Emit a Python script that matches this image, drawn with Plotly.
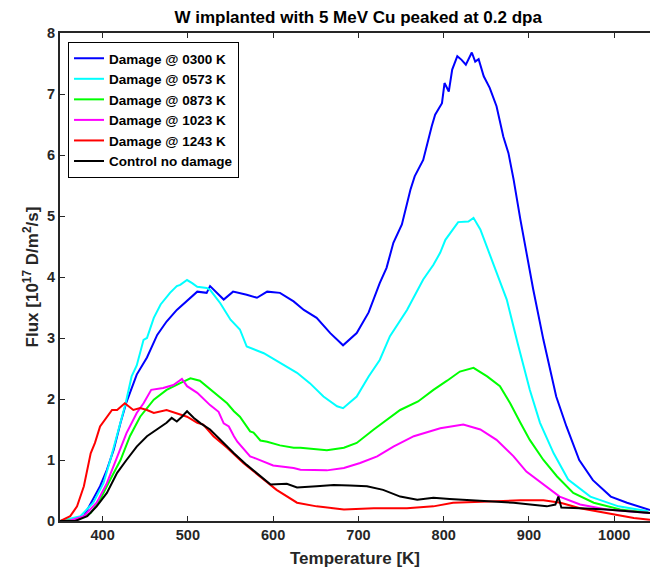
import plotly.graph_objects as go

# ---- data ----
T_0300 = [350, 365, 378, 389, 397, 405, 413, 421, 428, 440, 452, 464, 475, 487, 499, 511, 522, 526, 542, 553, 569, 581, 593, 608, 624, 636, 651, 667, 682, 698, 712, 725, 733, 741, 751, 761, 766, 776, 786, 790, 798, 801, 806, 810, 816, 821, 826, 833, 837, 841, 847, 854, 862, 870, 876, 882, 890, 898, 905, 917, 932, 944, 959, 975, 996, 1015, 1042]
F_0300 = [0, 0.01, 0.08, 0.35, 0.57, 0.84, 1.17, 1.61, 1.95, 2.4, 2.68, 3.05, 3.27, 3.46, 3.61, 3.76, 3.74, 3.85, 3.63, 3.76, 3.71, 3.66, 3.76, 3.74, 3.60, 3.46, 3.33, 3.08, 2.88, 3.08, 3.42, 3.9, 4.15, 4.56, 4.86, 5.43, 5.65, 5.92, 6.47, 6.66, 6.85, 7.18, 7.04, 7.40, 7.62, 7.56, 7.48, 7.68, 7.53, 7.57, 7.29, 7.10, 6.80, 6.30, 6.03, 5.6, 4.94, 4.34, 3.8, 2.97, 2.04, 1.55, 1.0, 0.67, 0.40, 0.30, 0.18]

T_0573 = [350, 374, 389, 401, 409, 419, 427, 434, 440, 448, 452, 460, 468, 479, 487, 491, 499, 505, 511, 522, 526, 538, 550, 561, 569, 589, 608, 628, 643, 659, 675, 682, 698, 712, 725, 737, 757, 776, 788, 796, 802, 817, 829, 835, 843, 852, 860, 874, 887, 901, 913, 929, 946, 972, 1005, 1040]
F_0573 = [0, 0.08, 0.3, 0.62, 1.0, 1.5, 1.93, 2.37, 2.55, 2.97, 3.0, 3.33, 3.55, 3.74, 3.85, 3.87, 3.95, 3.9, 3.84, 3.82, 3.79, 3.57, 3.30, 3.14, 2.86, 2.75, 2.59, 2.43, 2.26, 2.04, 1.88, 1.85, 2.04, 2.37, 2.64, 3.03, 3.46, 3.96, 4.2, 4.4, 4.61, 4.90, 4.91, 4.97, 4.78, 4.45, 4.15, 3.63, 2.9, 2.15, 1.61, 1.11, 0.68, 0.40, 0.24, 0.16]

T_0873 = [350, 370, 386, 397, 409, 421, 432, 444, 460, 475, 491, 503, 514, 530, 546, 554, 561, 573, 577, 585, 593, 608, 624, 632, 663, 683, 698, 718, 733, 749, 770, 788, 804, 819, 835, 851, 866, 878, 890, 901, 917, 933, 952, 976, 1007, 1042]
F_0873 = [0, 0.02, 0.13, 0.35, 0.68, 1.0, 1.39, 1.71, 1.99, 2.15, 2.26, 2.34, 2.3, 2.12, 1.93, 1.8, 1.71, 1.47, 1.45, 1.32, 1.3, 1.24, 1.2, 1.2, 1.16, 1.2, 1.28, 1.5, 1.66, 1.82, 1.96, 2.15, 2.3, 2.45, 2.51, 2.37, 2.21, 1.93, 1.61, 1.33, 1.0, 0.73, 0.46, 0.30, 0.19, 0.13]

T_1023 = [350, 362, 378, 393, 405, 417, 428, 440, 448, 457, 471, 483, 493, 499, 511, 526, 536, 542, 548, 554, 558, 573, 577, 600, 624, 632, 663, 683, 702, 722, 741, 765, 784, 796, 823, 843, 862, 882, 897, 917, 936, 960, 991, 1042]
F_1023 = [0, 0.01, 0.08, 0.3, 0.62, 1.06, 1.44, 1.77, 1.93, 2.15, 2.18, 2.23, 2.33, 2.21, 2.1, 1.9, 1.79, 1.6, 1.55, 1.39, 1.3, 1.06, 1.04, 0.91, 0.87, 0.84, 0.83, 0.87, 0.95, 1.06, 1.22, 1.39, 1.47, 1.52, 1.58, 1.5, 1.33, 1.06, 0.81, 0.60, 0.40, 0.27, 0.19, 0.13]

T_1243 = [350, 362, 370, 378, 386, 391, 397, 405, 411, 417, 426, 436, 444, 452, 460, 475, 487, 499, 511, 518, 530, 546, 565, 585, 604, 628, 651, 683, 718, 757, 788, 811, 851, 890, 917, 937, 960, 991, 1023, 1042]
F_1243 = [0, 0.08, 0.24, 0.57, 1.11, 1.28, 1.55, 1.71, 1.82, 1.82, 1.93, 1.82, 1.85, 1.82, 1.77, 1.82, 1.77, 1.71, 1.61, 1.58, 1.39, 1.2, 0.95, 0.73, 0.51, 0.30, 0.24, 0.19, 0.21, 0.21, 0.24, 0.30, 0.32, 0.34, 0.34, 0.30, 0.21, 0.13, 0.05, 0.02]

T_ctrl = [350, 368, 382, 393, 405, 417, 428, 440, 452, 464, 475, 481, 487, 493, 499, 507, 515, 526, 538, 554, 569, 585, 597, 616, 628, 651, 671, 690, 710, 729, 749, 769, 788, 807, 851, 882, 921, 931, 934.5, 938, 960, 991, 1042]
F_ctrl = [0, 0.0, 0.08, 0.24, 0.46, 0.79, 1.0, 1.22, 1.39, 1.50, 1.61, 1.69, 1.63, 1.71, 1.80, 1.69, 1.6, 1.5, 1.33, 1.11, 0.92, 0.73, 0.6, 0.61, 0.55, 0.57, 0.59, 0.58, 0.57, 0.51, 0.40, 0.35, 0.38, 0.36, 0.32, 0.30, 0.24, 0.27, 0.40, 0.22, 0.21, 0.19, 0.13]

names = ["Damage @ 0300 K", "Damage @ 0573 K", "Damage @ 0873 K",
         "Damage @ 1023 K", "Damage @ 1243 K", "Control no damage"]
x_tick_vals = [400, 500, 600, 700, 800, 900, 1000]
y_tick_vals = [0, 1, 2, 3, 4, 5, 6, 7, 8]

series = [(T_0300, F_0300, "#0000FF"), (T_0573, F_0573, "#00FFFF"),
          (T_0873, F_0873, "#00FF00"), (T_1023, F_1023, "#FF00FF"),
          (T_1243, F_1243, "#FF0000"), (T_ctrl, F_ctrl, "#000000")]

fig = go.Figure()
for (tx, fy, col), nm in zip(series, names):
    fig.add_trace(go.Scatter(x=tx, y=fy, mode="lines", name=f"<b>{nm}</b>",
                             line=dict(color=col, width=2)))

FONT = "Liberation Sans, Arial, sans-serif"
axis_col = "#262626"
fig.update_layout(
    width=650, height=568,
    paper_bgcolor="white", plot_bgcolor="white",
    margin=dict(l=60, r=0, t=33, b=47),
    font=dict(family=FONT, color=axis_col, size=14),
    title=dict(text="<b>W implanted with 5 MeV Cu peaked at 0.2 dpa</b>",
               x=0.551, xanchor="center", y=0.970, yanchor="middle",
               xref="container", yref="container",
               font=dict(size=17, color="#000000", family=FONT)),
    showlegend=True,
    legend=dict(x=0.0136, y=0.9816, xanchor="left", yanchor="top",
                bgcolor="white", bordercolor="#000000", borderwidth=1,
                font=dict(size=13.5, color="#000000", family=FONT),
                tracegroupgap=0, itemwidth=30),
)
fig.update_xaxes(
    range=[350, 1042], tickvals=x_tick_vals,
    ticktext=[f"<b>{v}</b>" for v in x_tick_vals],
    tickfont=dict(size=14.5, color=axis_col),
    ticks="inside", ticklen=5, tickwidth=1, tickcolor=axis_col,
    showline=True, linecolor=axis_col, linewidth=2, mirror="ticks",
    showgrid=False, zeroline=False, automargin=False,
    title=dict(text="<b>Temperature [K]</b>", standoff=11,
               font=dict(size=17, color=axis_col)),
)
fig.update_yaxes(
    range=[0, 8], tickvals=y_tick_vals,
    ticktext=[f"<b>{v}</b>" for v in y_tick_vals],
    tickfont=dict(size=14.5, color=axis_col),
    ticks="inside", ticklen=5, tickwidth=1, tickcolor=axis_col,
    showline=True, linecolor=axis_col, linewidth=2, mirror=False,
    showgrid=False, zeroline=False, automargin=False,
    title=dict(text="<b>Flux [10<sup>17</sup> D/m<sup>2</sup>/s]</b>", standoff=4,
               font=dict(size=17, color=axis_col)),
)

fig.write_html("out.html", config={"displayModeBar": False},
               post_script="document.body.style.margin='0px';")
